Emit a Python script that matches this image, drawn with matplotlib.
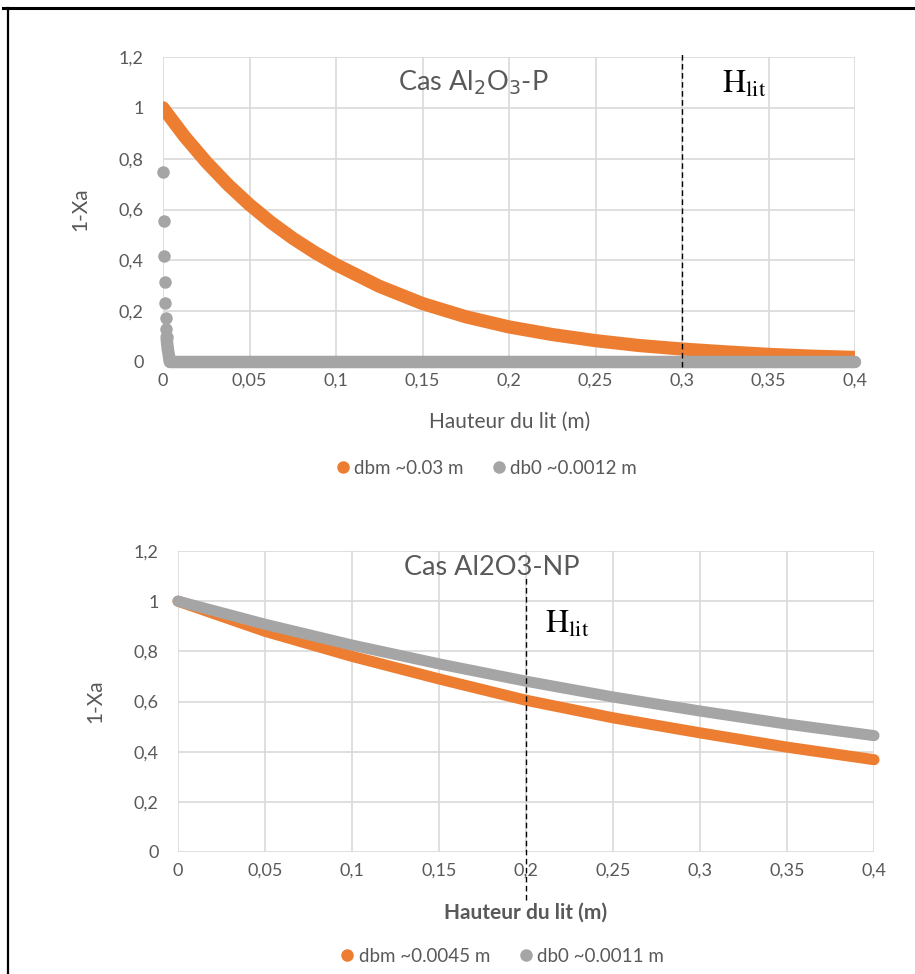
import matplotlib
matplotlib.use("Agg")
import matplotlib.pyplot as plt
from matplotlib.lines import Line2D
from matplotlib.ticker import FuncFormatter, MultipleLocator

plt.rcParams['font.family'] = ['Lato', 'DejaVu Sans']
plt.rcParams['mathtext.fontset'] = 'stix'

# ---------------- data ----------------
# Top chart: Cas Al2O3-P
top_orange_x = [0, 0.0125, 0.025, 0.0375, 0.05, 0.0625, 0.075, 0.0875, 0.1, 0.125,
                0.15, 0.175, 0.2, 0.225, 0.25, 0.275, 0.3, 0.325, 0.35, 0.375, 0.4]
top_orange_y = [1.0, 0.887, 0.787, 0.698, 0.619, 0.549, 0.487, 0.432, 0.383, 0.298,
                0.23, 0.178, 0.138, 0.108, 0.084, 0.065, 0.051, 0.04, 0.03, 0.023, 0.018]
top_gray_x = [0.0, 0.0003, 0.0006, 0.0009, 0.0012, 0.0015, 0.0018, 0.0021, 0.0024,
              0.0027, 0.003, 0.0033, 0.0036, 0.004, 0.1, 0.2, 0.3, 0.4]
top_gray_y = [0.746, 0.556, 0.418, 0.313, 0.233, 0.174, 0.13, 0.098, 0.073,
              0.055, 0.041, 0.03, 0.015, 0.0, 0.0, 0.0, 0.0, 0.0]
top_labels = ["dbm ~0.03 m", "db0 ~0.0012 m"]
top_hlit = 0.3

# Bottom chart: Cas Al2O3-NP
bot_x = [0, 0.05, 0.1, 0.15, 0.2, 0.25, 0.3, 0.35, 0.4]
bot_orange_y = [1.0, 0.88, 0.78, 0.69, 0.605, 0.535, 0.475, 0.418, 0.368]
bot_gray_y = [1.0, 0.908, 0.825, 0.75, 0.681, 0.618, 0.562, 0.51, 0.464]
bot_labels = ["dbm ~0.0045 m", "db0 ~0.0011 m"]
bot_hlit = 0.2

ORANGE = "#ED7D31"
GRAY = "#A5A5A5"
TXT = "#595959"
GRID = "#D9D9D9"

TICK_FS = 13
LAB_FS = 15
LEG_FS = 13.5
TITLE_FS = 19.5

fig = plt.figure(figsize=(9.15, 9.74), dpi=100)

def fmt(v, pos):
    s = "{:g}".format(round(v, 3))
    return s.replace(".", ",")

def style(ax):
    ax.set_xlim(0, 0.4)
    ax.set_ylim(0, 1.2)
    ax.xaxis.set_major_locator(MultipleLocator(0.05))
    ax.yaxis.set_major_locator(MultipleLocator(0.2))
    ax.xaxis.set_major_formatter(FuncFormatter(fmt))
    ax.yaxis.set_major_formatter(FuncFormatter(fmt))
    ax.grid(True, color=GRID, lw=1.2)
    ax.set_axisbelow(True)
    for s in ax.spines.values():
        s.set_visible(False)
    ax.tick_params(length=0, labelsize=TICK_FS, labelcolor=TXT)
    ax.tick_params(axis='y', pad=14)
    ax.tick_params(axis='x', pad=8)

# ---------------- top ----------------
ax1 = fig.add_axes([163/915, 1-362/974, 692/915, 305/974])
style(ax1)
ax1.plot(top_orange_x, top_orange_y, color=ORANGE, lw=9.5, solid_capstyle='round',
         solid_joinstyle='round', zorder=3)
k = 8
ax1.plot(top_gray_x[:k], top_gray_y[:k], 'o', color=GRAY, ms=9, mec='none', zorder=4, clip_on=False)
ax1.plot(top_gray_x[k-1:], top_gray_y[k-1:], color=GRAY, lw=9, solid_capstyle='round', zorder=4, clip_on=False)
ax1.plot([top_hlit, top_hlit], [-0.02, 1.22], color='black', lw=1, ls=(0, (4, 2.5)), clip_on=False, zorder=5)
ax1.text(0.136, 1.1, r'Cas Al$_2$O$_3$-P', fontsize=TITLE_FS, color=TXT, va='center', ha='left',
         math_fontfamily='dejavusans')
ax1.text(0.323, 1.095, r'$\mathrm{H}_{\mathrm{lit}}$', fontsize=23, color='black', va='center', ha='left')
ax1.set_xlabel("Hauteur du lit (m)", fontsize=LAB_FS, color=TXT)
ax1.xaxis.set_label_coords(0.501, -0.165)
ax1.set_ylabel("1-Xa", fontsize=LAB_FS, color=TXT)
ax1.yaxis.set_label_coords(-0.105, 0.5)
h1 = [Line2D([], [], marker='o', ls='', color=ORANGE, ms=9, mec='none'),
      Line2D([], [], marker='o', ls='', color=GRAY, ms=9, mec='none')]
fig.legend(h1, top_labels, loc='center', bbox_to_anchor=(485/915, 1-468/974), ncol=2,
           frameon=False, fontsize=LEG_FS, labelcolor=TXT, handletextpad=0.1, columnspacing=1.4,
           handlelength=1.0)

# ---------------- bottom ----------------
ax2 = fig.add_axes([178/915, 1-852/974, 696/915, 301/974])
style(ax2)
ax2.plot(bot_x, bot_orange_y, color=ORANGE, lw=8, solid_capstyle='round', zorder=3, clip_on=False)
ax2.plot(bot_x, bot_gray_y, color=GRAY, lw=8, solid_capstyle='round', zorder=4, clip_on=False)
ax2.plot([bot_hlit, bot_hlit], [-0.19, 1.092], color='black', lw=1, ls=(0, (4, 2.5)), clip_on=False, zorder=5)
ax2.text(0.13, 1.136, 'Cas Al2O3-NP', fontsize=TITLE_FS, color=TXT, va='center', ha='left')
ax2.text(0.211, 0.91, r'$\mathrm{H}_{\mathrm{lit}}$', fontsize=23, color='black', va='center', ha='left')
ax2.set_xlabel("Hauteur du lit (m)", fontsize=LAB_FS, color=TXT, fontweight='bold')
ax2.xaxis.set_label_coords(0.5, -0.168)
ax2.set_ylabel("1-Xa", fontsize=LAB_FS, color=TXT)
ax2.yaxis.set_label_coords(-0.105, 0.5)
h2 = [Line2D([], [], marker='o', ls='', color=ORANGE, ms=9, mec='none'),
      Line2D([], [], marker='o', ls='', color=GRAY, ms=9, mec='none')]
fig.legend(h2, bot_labels, loc='center', bbox_to_anchor=(501/915, 1-956/974), ncol=2,
           frameon=False, fontsize=LEG_FS, labelcolor=TXT, handletextpad=0.1, columnspacing=1.4,
           handlelength=1.0)

# page frame
fig.add_artist(Line2D([3/915, 1], [1-8/974, 1-8/974], color='black', lw=2.2, transform=fig.transFigure))
fig.add_artist(Line2D([7.5/915, 7.5/915], [1-8/974, 0], color='black', lw=1.6, transform=fig.transFigure))

fig.savefig("out.png", dpi=100)
